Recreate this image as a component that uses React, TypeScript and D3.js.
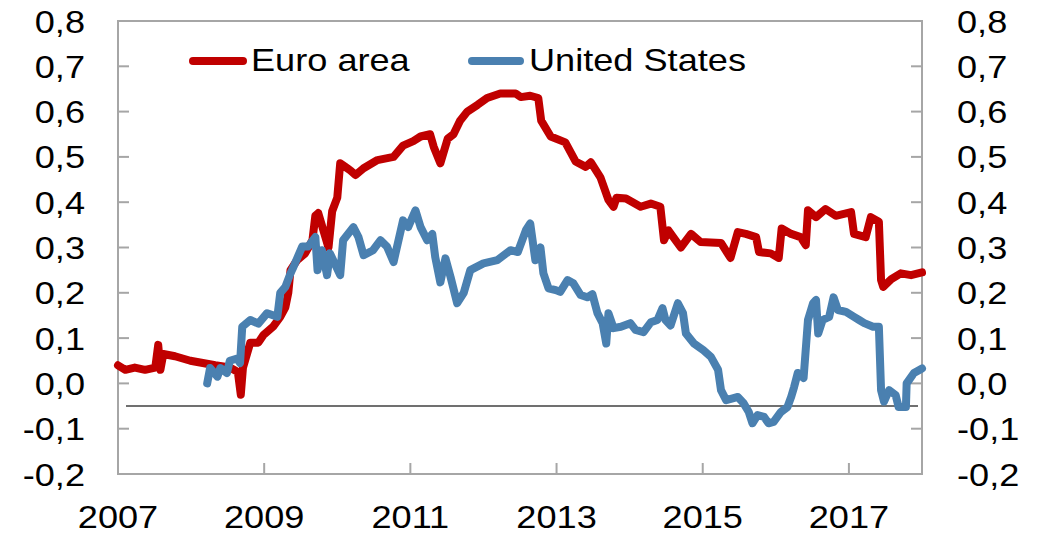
import { useEffect, useRef } from "react";
import * as d3 from "d3";

// ── Data ──────────────────────────────────────────────────────────────────────

// [decimal year, value]
const EURO_AREA: [number, number][] = [
  [2007.00, 0.040], [2007.10, 0.030], [2007.23, 0.035], [2007.37, 0.030],
  [2007.51, 0.035], [2007.55, 0.085], [2007.58, 0.030], [2007.62, 0.065],
  [2007.78, 0.060], [2007.99, 0.050], [2008.16, 0.045], [2008.33, 0.040],
  [2008.53, 0.035], [2008.64, 0.025], [2008.68, -0.025], [2008.71, 0.035],
  [2008.81, 0.090], [2008.92, 0.090], [2008.99, 0.107], [2009.12, 0.125],
  [2009.22, 0.147], [2009.29, 0.168], [2009.33, 0.200], [2009.36, 0.250],
  [2009.45, 0.272], [2009.56, 0.287], [2009.66, 0.316], [2009.70, 0.370],
  [2009.74, 0.376], [2009.81, 0.338], [2009.88, 0.300], [2009.93, 0.380],
  [2010.00, 0.410], [2010.04, 0.486], [2010.11, 0.478], [2010.18, 0.470],
  [2010.25, 0.460], [2010.36, 0.475], [2010.55, 0.493], [2010.77, 0.500],
  [2010.90, 0.525], [2011.04, 0.535], [2011.14, 0.545], [2011.27, 0.550],
  [2011.32, 0.522], [2011.41, 0.486], [2011.51, 0.540], [2011.59, 0.550],
  [2011.68, 0.580], [2011.78, 0.600], [2011.92, 0.615], [2012.05, 0.630],
  [2012.23, 0.640], [2012.44, 0.640], [2012.51, 0.632], [2012.64, 0.635],
  [2012.75, 0.630], [2012.79, 0.580], [2012.92, 0.545], [2013.12, 0.532],
  [2013.26, 0.490], [2013.40, 0.478], [2013.47, 0.488], [2013.60, 0.455],
  [2013.71, 0.405], [2013.78, 0.390], [2013.82, 0.410], [2013.95, 0.408],
  [2014.15, 0.390], [2014.29, 0.397], [2014.42, 0.390], [2014.47, 0.316],
  [2014.53, 0.338], [2014.70, 0.300], [2014.84, 0.330], [2014.97, 0.312],
  [2015.25, 0.310], [2015.38, 0.277], [2015.48, 0.334], [2015.59, 0.330],
  [2015.73, 0.323], [2015.77, 0.290], [2015.93, 0.287], [2016.04, 0.277],
  [2016.08, 0.342], [2016.21, 0.330], [2016.34, 0.323], [2016.41, 0.305],
  [2016.44, 0.382], [2016.55, 0.367], [2016.68, 0.385], [2016.82, 0.370],
  [2017.03, 0.378], [2017.07, 0.330], [2017.23, 0.323], [2017.30, 0.367],
  [2017.41, 0.357], [2017.44, 0.228], [2017.47, 0.213], [2017.58, 0.230],
  [2017.71, 0.243], [2017.85, 0.239], [2018.00, 0.245],
];

const UNITED_STATES: [number, number][] = [
  [2008.22, 0.000], [2008.26, 0.034], [2008.36, 0.015], [2008.40, 0.034],
  [2008.49, 0.023], [2008.53, 0.050], [2008.63, 0.055], [2008.67, 0.045],
  [2008.70, 0.125], [2008.81, 0.140], [2008.92, 0.132], [2009.04, 0.155],
  [2009.18, 0.147], [2009.22, 0.200], [2009.29, 0.213], [2009.36, 0.243],
  [2009.40, 0.257], [2009.52, 0.302], [2009.60, 0.302], [2009.70, 0.323],
  [2009.73, 0.250], [2009.79, 0.294], [2009.86, 0.239], [2009.90, 0.287],
  [2010.04, 0.239], [2010.08, 0.316], [2010.22, 0.345], [2010.29, 0.323],
  [2010.36, 0.283], [2010.49, 0.294], [2010.59, 0.316], [2010.68, 0.302],
  [2010.77, 0.268], [2010.90, 0.360], [2010.97, 0.345], [2011.07, 0.382],
  [2011.14, 0.345], [2011.23, 0.316], [2011.30, 0.330], [2011.34, 0.279],
  [2011.41, 0.223], [2011.48, 0.276], [2011.55, 0.235], [2011.64, 0.177],
  [2011.73, 0.200], [2011.82, 0.250], [2012.00, 0.265], [2012.19, 0.272],
  [2012.37, 0.294], [2012.47, 0.290], [2012.58, 0.338], [2012.64, 0.353],
  [2012.71, 0.272], [2012.78, 0.300], [2012.82, 0.243], [2012.89, 0.210],
  [2012.99, 0.206], [2013.05, 0.202], [2013.15, 0.228], [2013.23, 0.221],
  [2013.33, 0.195], [2013.42, 0.190], [2013.49, 0.197], [2013.56, 0.155],
  [2013.63, 0.133], [2013.68, 0.088], [2013.71, 0.155], [2013.78, 0.122],
  [2013.88, 0.125], [2014.01, 0.133], [2014.08, 0.118], [2014.19, 0.113],
  [2014.29, 0.135], [2014.38, 0.140], [2014.45, 0.166], [2014.49, 0.140],
  [2014.56, 0.128], [2014.66, 0.177], [2014.73, 0.155], [2014.77, 0.110],
  [2014.88, 0.088], [2015.01, 0.073], [2015.11, 0.059], [2015.21, 0.030],
  [2015.25, -0.015], [2015.32, -0.037], [2015.41, -0.033], [2015.48, -0.030],
  [2015.56, -0.044], [2015.63, -0.063], [2015.68, -0.088], [2015.75, -0.070],
  [2015.84, -0.074], [2015.90, -0.088], [2015.97, -0.085], [2016.07, -0.063],
  [2016.16, -0.052], [2016.21, -0.030], [2016.25, -0.008], [2016.30, 0.023],
  [2016.38, 0.012], [2016.44, 0.140], [2016.51, 0.177], [2016.55, 0.184],
  [2016.58, 0.110], [2016.64, 0.140], [2016.73, 0.147], [2016.79, 0.190],
  [2016.85, 0.162], [2016.96, 0.158], [2017.07, 0.147], [2017.14, 0.140],
  [2017.21, 0.133], [2017.33, 0.125], [2017.41, 0.125], [2017.44, -0.015],
  [2017.48, -0.040], [2017.55, -0.015], [2017.64, -0.026], [2017.68, -0.052],
  [2017.78, -0.052], [2017.79, 0.000], [2017.89, 0.023], [2018.00, 0.033],
];

const X_TICKS = [2007, 2009, 2011, 2013, 2015, 2017];
const Y_TICKS = [-0.2, -0.1, 0, 0.1, 0.2, 0.3, 0.4, 0.5, 0.6, 0.7, 0.8];
const REF_LEVEL = -0.05;

// ── Config ────────────────────────────────────────────────────────────────────

const WIDTH  = 1040;
const HEIGHT = 535;
const PLOT   = { left: 118, right: 922, top: 21, bottom: 474 };

const RED   = "#c00000";
const BLUE  = "#4a80b0";
const AXIS  = "#a6a6a6";
const FONT  = "'Liberation Sans', Arial, sans-serif";
const FS    = 32;
const SX    = 1.13; // horizontal stretch of the original text

const fmt = (v: number) => v.toFixed(1).replace(".", ",");

// ── Component ─────────────────────────────────────────────────────────────────

const App = () => {
  const svgRef = useRef<SVGSVGElement>(null);

  useEffect(() => {
    if (!svgRef.current) return;
    const svg = d3.select(svgRef.current);
    svg.selectAll("*").remove();

    const x = d3.scaleLinear().domain([2007, 2018]).range([PLOT.left, PLOT.right]);
    const y = d3.scaleLinear().domain([-0.2, 0.8]).range([PLOT.bottom, PLOT.top]);

    const label = (tx: number, ty: number, text: string, anchor: string) =>
      svg.append("text")
        .attr("transform", `translate(${tx},${ty}) scale(${SX},1)`)
        .attr("text-anchor", anchor)
        .attr("font-family", FONT)
        .attr("font-size", FS)
        .attr("fill", "#000")
        .text(text);

    // Frame
    svg.append("rect")
      .attr("x", PLOT.left)
      .attr("y", PLOT.top)
      .attr("width", PLOT.right - PLOT.left)
      .attr("height", PLOT.bottom - PLOT.top)
      .attr("fill", "none")
      .attr("stroke", AXIS)
      .attr("stroke-width", 2);

    // Y ticks (both sides, inward)
    Y_TICKS.forEach((t) => {
      svg.append("line")
        .attr("x1", PLOT.left).attr("x2", PLOT.left + 11)
        .attr("y1", y(t)).attr("y2", y(t))
        .attr("stroke", AXIS).attr("stroke-width", 2);
      svg.append("line")
        .attr("x1", PLOT.right - 11).attr("x2", PLOT.right)
        .attr("y1", y(t)).attr("y2", y(t))
        .attr("stroke", AXIS).attr("stroke-width", 2);
      label(85, y(t) + 11.5, fmt(t), "end");
      label(957, y(t) + 11.5, fmt(t), "start");
    });

    // X ticks
    X_TICKS.forEach((t) => {
      svg.append("line")
        .attr("x1", x(t)).attr("x2", x(t))
        .attr("y1", PLOT.bottom - 11).attr("y2", PLOT.bottom)
        .attr("stroke", AXIS).attr("stroke-width", 2);
      label(x(t), 528, String(t), "middle");
    });

    // Reference line
    svg.append("line")
      .attr("x1", PLOT.left + 8).attr("x2", PLOT.right - 4)
      .attr("y1", y(REF_LEVEL)).attr("y2", y(REF_LEVEL))
      .attr("stroke", "#404040").attr("stroke-width", 1.5);

    // Series
    const line = d3.line<[number, number]>()
      .x((d) => x(d[0]))
      .y((d) => y(d[1]));

    [
      { data: EURO_AREA, color: RED },
      { data: UNITED_STATES, color: BLUE },
    ].forEach(({ data, color }) => {
      svg.append("path")
        .datum(data)
        .attr("fill", "none")
        .attr("stroke", color)
        .attr("stroke-width", 8)
        .attr("stroke-linejoin", "round")
        .attr("stroke-linecap", "round")
        .attr("d", line);
    });

    // Legend
    [
      { name: "Euro area",     color: RED,  x0: 193, x1: 243, tx: 251 },
      { name: "United States", color: BLUE, x0: 472, x1: 520, tx: 529 },
    ].forEach(({ name, color, x0, x1, tx }) => {
      svg.append("line")
        .attr("x1", x0).attr("x2", x1)
        .attr("y1", 61).attr("y2", 61)
        .attr("stroke", color)
        .attr("stroke-width", 8)
        .attr("stroke-linecap", "round");
      label(tx, 71, name, "start");
    });
  }, []);

  return (
    <svg
      ref={svgRef}
      width={WIDTH}
      height={HEIGHT}
      style={{ position: "absolute", left: 0, top: 0, background: "#fff" }}
    />
  );
};

export default App;
